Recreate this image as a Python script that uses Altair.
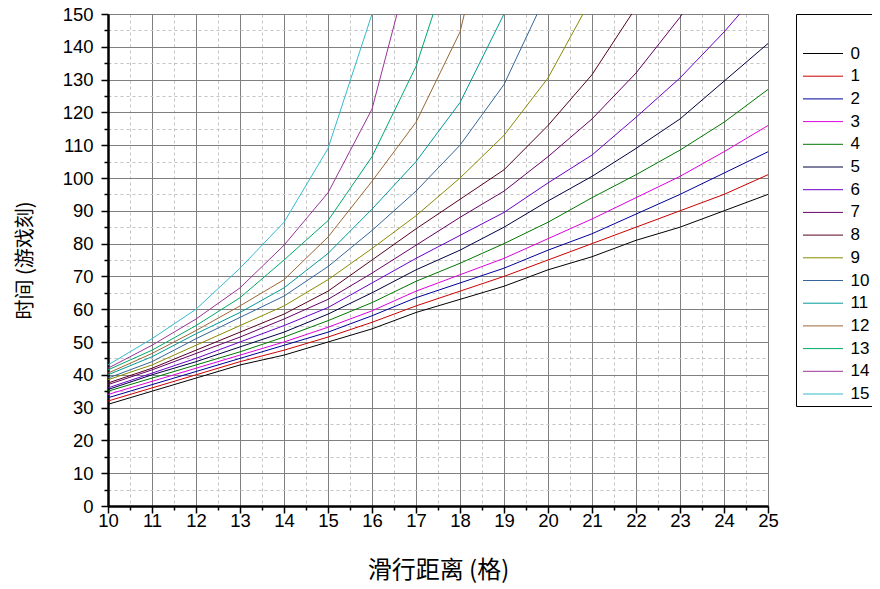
import altair as alt
import pandas as pd

# sliding distance starts at 10; each series lists values at 10, 11, 12, ...
x_start = 10
series_names = [str(i) for i in range(16)]
s0 = [31, 35, 39, 43, 46, 50, 54, 59, 63, 67, 72, 76, 81, 85, 90, 95]
s1 = [32, 36, 40, 44, 47.5, 51.5, 56, 61, 65.5, 70, 75, 80, 85, 90, 95, 101]
s2 = [33, 37, 41, 45, 49, 53, 58, 63.5, 68, 72.5, 78, 83, 89, 95, 101.5, 108]
s3 = [34, 38, 42, 46, 50, 54.5, 59.5, 65.5, 70.5, 75.5, 81.5, 87.5, 94, 100.5, 108, 116]
s4 = [35, 39, 43, 47, 51.5, 56.5, 62, 68.5, 74, 80, 86.5, 94, 101, 108.5, 117, 127]
s5 = [35.5, 40, 44, 48.5, 53, 58.5, 65, 72, 78, 85, 93, 100.5, 109, 118, 129.5, 141]
s6 = [36, 40.5, 45, 50, 55, 60.5, 68, 75.5, 82.5, 89.5, 98.5, 107, 118.5, 130.5, 144.5, 160]
s7 = [37, 41.5, 46.5, 51.5, 57, 63, 71, 79.5, 88, 96, 106.5, 118, 132, 149, 170]
s8 = [37.5, 42, 47.5, 53, 58.5, 65.5, 75, 84.5, 93.5, 102.5, 116, 131.5, 152]
s9 = [38.5, 43, 49, 55, 61, 69, 78.5, 88.5, 100, 113, 130.5, 155]
s10 = [39, 44, 51, 57.5, 64, 73, 84, 96, 110, 128.5, 157]
s11 = [40, 45.5, 52.5, 59, 66.5, 77, 90.5, 105, 123, 150]
s12 = [40.5, 46.5, 53.5, 61, 69, 82, 99, 117, 144.5, 200]
s13 = [41.5, 47.5, 55, 63.5, 75, 87, 106.5, 134, 175]
s14 = [42, 49, 57, 66.5, 79.5, 95.5, 121, 172]
s15 = [43, 51, 60, 72.5, 86.5, 109, 150]
all_series = [s0, s1, s2, s3, s4, s5, s6, s7, s8, s9, s10, s11, s12, s13, s14, s15]

colors = ["#000000", "#cc0000", "#000099", "#dd00dd", "#007700", "#000040",
          "#6a00cc", "#660066", "#550022", "#8a8a00", "#336699", "#009999",
          "#996633", "#00aa66", "#993399", "#33bbcc"]

x_major = list(range(10, 26))
x_minor = [v + 0.5 for v in range(10, 25)]
y_major = list(range(0, 151, 10))
y_minor = list(range(5, 150, 10))

rows = []
for name, vals in zip(series_names, all_series):
    for k, v in enumerate(vals):
        rows.append({"d": x_start + k, "t": v, "s": name})
df = pd.DataFrame(rows)

xscale = alt.Scale(domain=[10, 25], nice=False, zero=False)
yscale = alt.Scale(domain=[0, 150], nice=False, zero=False)

font = "Liberation Sans"
cjk = "Noto Sans CJK SC"

minor = alt.Chart(df).mark_line(opacity=0).encode(
    x=alt.X("d:Q", scale=xscale, axis=alt.Axis(
        values=x_minor, orient="bottom", labels=False, domain=False, title=None,
        tickSize=4, tickColor="black", tickWidth=1.5,
        grid=True, gridColor="#c4c4c4", gridDash=[3, 3], gridWidth=1)),
    y=alt.Y("t:Q", scale=yscale, axis=alt.Axis(
        values=y_minor, orient="left", labels=False, domain=False, title=None,
        tickSize=4, tickColor="black", tickWidth=1.5,
        grid=True, gridColor="#c4c4c4", gridDash=[3, 3], gridWidth=1)),
    detail="s:N",
)

lines = alt.Chart(df).mark_line(clip=True, strokeWidth=1).encode(
    x=alt.X("d:Q", scale=xscale, axis=alt.Axis(
        values=x_major, orient="bottom", title="滑行距离 (格)", format="d",
        tickSize=7, tickColor="black", tickWidth=1.5,
        domainColor="black", domainWidth=2.5,
        grid=True, gridColor="#808080", gridWidth=1, labelFlush=False,
        labelFont=font, labelFontSize=18.5, labelColor="black", labelPadding=-2,
        titleFont=cjk, titleFontSize=24, titleFontWeight="normal", titleColor="black",
        titlePadding=29)),
    y=alt.Y("t:Q", scale=yscale, axis=alt.Axis(
        values=y_major, orient="left", title="时间 (游戏刻)", format="d",
        tickSize=7, tickColor="black", tickWidth=1.5,
        domainColor="black", domainWidth=2.5,
        grid=True, gridColor="#808080", gridWidth=1, labelFlush=False,
        labelFont=font, labelFontSize=18.5, labelColor="black", labelPadding=8,
        titleFont=cjk, titleFontSize=20, titleFontWeight="normal", titleColor="black",
        titlePadding=27)),
    color=alt.Color("s:N", sort=series_names,
                    scale=alt.Scale(domain=series_names, range=colors),
                    legend=alt.Legend(
                        title=" ", titleFontSize=14, titlePadding=13,
                        orient="none", legendX=688, legendY=0,
                        strokeColor="black", fillColor="white", padding=4,
                        symbolType="M-5,0H5", symbolSize=64, symbolStrokeWidth=1,
                        symbolOffset=14.5, labelOffset=19,
                        labelFont=font, labelFontSize=17, labelColor="black",
                        rowPadding=4.7)),
)

chart = alt.layer(minor, lines).resolve_axis(x="independent", y="independent").properties(
    width=660, height=492,
    autosize=alt.AutoSizeParams(type="none"),
    padding={"left": 100, "top": 6, "right": 104, "bottom": 80},
).configure_view(stroke=None).configure(background="white")

chart.save("out.html", embed_options={"renderer": "svg", "actions": False})
